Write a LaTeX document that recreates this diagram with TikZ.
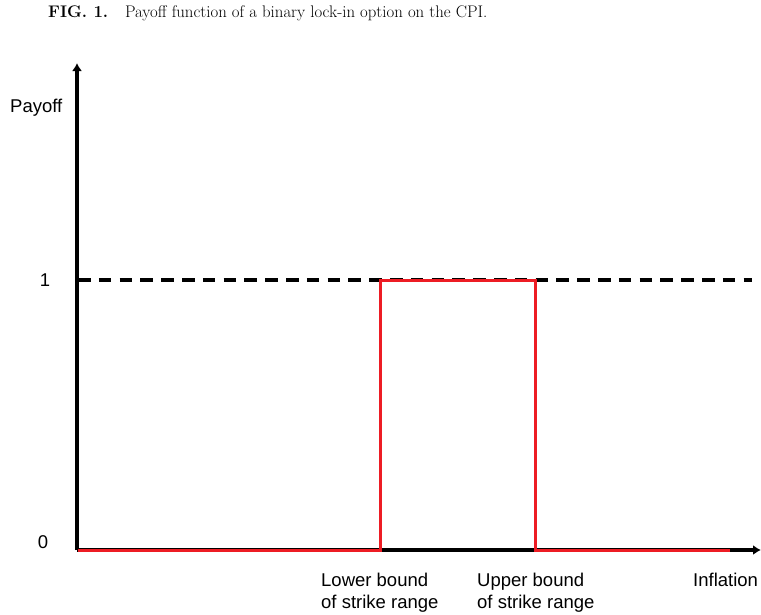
\documentclass[tikz,border=0pt]{standalone}
\usepackage{fontspec}
\newfontfamily\labelfont{Liberation Sans}
\usetikzlibrary{arrows.meta}

\definecolor{payred}{RGB}{237,28,36}

\tikzset{
  axisline/.style={line width=3.4pt, -{Latex[length=8pt,width=10pt]}},
  levelline/.style={line width=3.4pt, dash pattern=on 12.5pt off 8.3pt},
  payline/.style={line width=3pt, draw=payred, line join=miter},
  axlabel/.style={font=\labelfont\fontsize{18.5}{21.5}\selectfont, inner sep=0pt, align=left},
  titletext/.style={font=\fontsize{16.8}{20}\selectfont, inner sep=0pt, anchor=base west}
}

\begin{document}
\begin{tikzpicture}[x=1pt,y=-1pt]
\useasboundingbox (0,0) rectangle (761,614);

% axes
\coordinate (O) at (77,550);
\coordinate (ytip) at (77,63);
\coordinate (xtip) at (761,550);
\draw[axisline] (O) -- (ytip);
\draw[axisline] (O) -- (xtip);

% level of the payoff equal to one
\coordinate (levA) at (78,280);
\coordinate (levB) at (752,280);
\draw[levelline] (levA) -- (levB);

% binary payoff: one between the strikes, zero elsewhere
\coordinate (p0) at (78,550);
\coordinate (p1) at (380,550);
\coordinate (p2) at (380,280);
\coordinate (p3) at (535,280);
\coordinate (p4) at (535,550);
\coordinate (p5) at (730,550);
\draw[payline] (p0) -- (p1) -- (p2) -- (p3) -- (p4) -- (p5);

% labels
\node[titletext] (title) at (48,17) {\textbf{FIG. 1.}\hspace{0.6em} Payoff function of a binary lock-in option on the CPI.};
\node[axlabel, anchor=west] (payoff) at (10,108) {Payoff};
\node[axlabel] (one) at (45,280) {1};
\node[axlabel] (zero) at (43,542) {0};
\node[axlabel, anchor=north west] (lower) at (321,573) {Lower bound\\of strike range};
\node[axlabel, anchor=north west] (upper) at (477,573) {Upper bound\\of strike range};
\node[axlabel, anchor=north west] (infl) at (693,573) {Inflation};
\end{tikzpicture}
\end{document}
